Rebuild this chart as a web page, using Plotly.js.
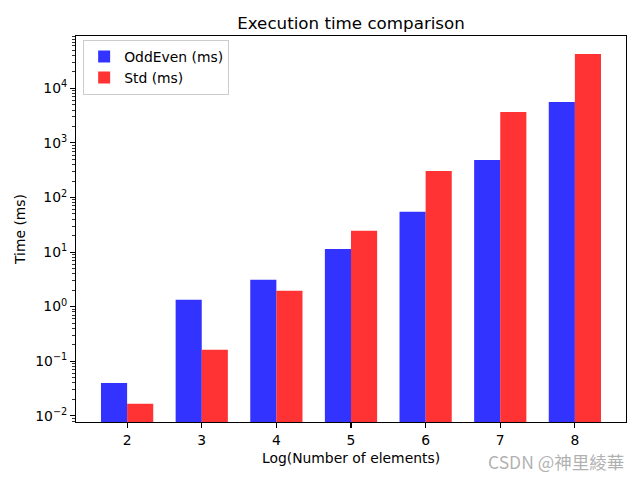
<!DOCTYPE html>
<html>
<head>
<meta charset="utf-8">
<script src="https://cdn.plot.ly/plotly-3.0.1.min.js"></script>
<style>html,body{margin:0;padding:0;background:#fff;}#chart{width:640px;height:480px;}</style>
</head>
<body>
<div id="chart"></div>
<script>
const categories = [2, 3, 4, 5, 6, 7, 8];
const oddEvenMs = [0.0397, 1.33, 3.1, 11.4, 54.5, 488, 5630];
const stdMs = [0.0166, 0.162, 1.95, 24.5, 307, 3700, 42700];
const yTickVals = [1e-2, 1e-1, 1, 10, 100, 1000, 10000];
const yTickText = ['10<sup>\u22122</sup>', '10<sup>\u22121</sup>', '10<sup>0</sup>', '10<sup>1</sup>', '10<sup>2</sup>', '10<sup>3</sup>', '10<sup>4</sup>'];

const minorVals = [];
for (let e = -3; e <= 5; e++) {
  for (let m = 2; m <= 9; m++) minorVals.push(m * Math.pow(10, e));
}

const font = {family: 'DejaVu Sans, sans-serif', size: 13.9, color: '#000'};

const traces = [
  {type: 'bar', name: 'OddEven (ms)', x: categories, y: oddEvenMs, width: 0.35, offset: -0.35,
   marker: {color: 'rgba(0,0,255,0.8)', line: {width: 0}}},
  {type: 'bar', name: 'Std (ms)', x: categories, y: stdMs, width: 0.35, offset: 0,
   marker: {color: 'rgba(255,0,0,0.8)', line: {width: 0}}}
];

const layout = {
  width: 640, height: 480,
  margin: {l: 76, r: 14, t: 36, b: 58, pad: 0},
  paper_bgcolor: '#fff', plot_bgcolor: '#fff',
  font: font,
  showlegend: true,
  title: {text: 'Execution time comparison', font: {family: 'DejaVu Sans, sans-serif', size: 16.7, color: '#000'},
          x: 0.5485, xanchor: 'center', y: 0.952, yanchor: 'middle'},
  xaxis: {
    range: [1.315, 8.685], tickvals: categories, ticktext: categories.map(String),
    ticks: 'outside', ticklen: 4.9, tickwidth: 1.1, tickcolor: '#000',
    showline: true, mirror: true, linecolor: '#000', linewidth: 1.1,
    showgrid: false, zeroline: false,
    title: {text: 'Log(Number of elements)', font: font, standoff: 6}
  },
  yaxis: {
    type: 'log', range: [-2.115, 4.96],
    tickvals: yTickVals, ticktext: yTickText,
    ticks: 'outside', ticklen: 4.9, tickwidth: 1.1, tickcolor: '#000',
    minor: {tickvals: minorVals, ticks: 'outside', ticklen: 2.8, tickwidth: 0.8, tickcolor: '#000', showgrid: false},
    showline: true, mirror: true, linecolor: '#000', linewidth: 1.1,
    showgrid: false, zeroline: false,
    title: {text: 'Time (ms)', font: font, standoff: 6}
  },
  legend: {
    x: 0.013, y: 0.99, xanchor: 'left', yanchor: 'top',
    bgcolor: 'rgba(255,255,255,0.8)', bordercolor: '#cccccc', borderwidth: 1,
    font: font, tracegroupgap: 0
  },
  annotations: [{
    text: 'CSDN @神里綾華', xref: 'paper', yref: 'paper', x: 1.0, y: -0.103,
    xanchor: 'right', yanchor: 'middle', showarrow: false,
    font: {family: 'Noto Sans CJK SC, sans-serif', size: 17.5, color: 'rgba(150,150,150,0.75)'}
  }]
};

Plotly.newPlot('chart', traces, layout, {displayModeBar: false, staticPlot: true});
</script>
</body>
</html>
